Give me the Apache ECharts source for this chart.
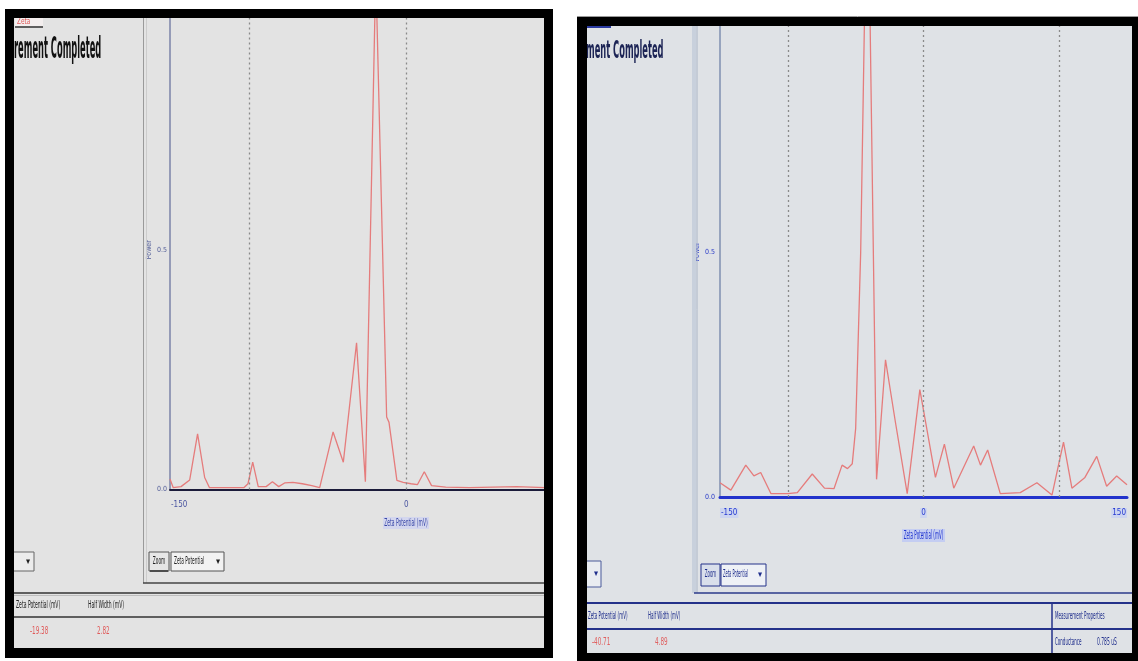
<!DOCTYPE html>
<html><head><meta charset="utf-8">
<script src="https://cdn.jsdelivr.net/npm/echarts@6/dist/echarts.min.js"></script>
<style>html,body{margin:0;padding:0;background:#fff}#c{width:1138px;height:661px}</style>
</head><body><div id="c"></div>
<script>
// ---- data ----
const leftZeta  = [-150,-148,-143,-137.5,-132.5,-128,-125,-115,-103,-100.5,-97.5,-94,-89,-85,-81,-77,-72,-66,-60,-55,-46.5,-40,-31.6,-26,-19.4,-12.5,-11,-6,-2,3,7,11.4,16,25,40,55,70,88];
const leftPower = [0.022,0.004,0.006,0.02,0.116,0.025,0.004,0.004,0.004,0.012,0.057,0.006,0.006,0.016,0.006,0.014,0.015,0.012,0.008,0.004,0.12,0.057,0.306,0.016,1.08,0.151,0.14,0.019,0.015,0.012,0.01,0.037,0.008,0.005,0.004,0.005,0.006,0.004];
const rightZeta  = [-150,-142,-131,-125,-120,-112.5,-100,-93,-82,-73,-66,-60,-56,-52.5,-50,-46.3,-41.3,-34.6,-28,-20.6,-12,-2.7,8.8,15.4,22.3,37,42,47.3,56.6,71.3,83.6,94.7,103.2,109.4,119,127.7,135,142.4,150];
const rightPower = [0.029,0.014,0.065,0.043,0.05,0.007,0.007,0.009,0.047,0.018,0.017,0.065,0.058,0.068,0.14,0.5,1.35,0.036,0.28,0.151,0.007,0.219,0.04,0.108,0.018,0.104,0.065,0.096,0.007,0.009,0.029,0.004,0.112,0.018,0.04,0.083,0.022,0.043,0.025];
const gridLinesMv = [-100, 0, 100];
const xTickLabels = [-150, 0, 150];
const yTickLabels = [0, 0.5, 1];
const tableHeaders = ['Zeta Potential (mV)', 'Half Width (mV)'];
const leftResults = ['-19.38', '2.82'];
const rightResults = ['-40.71', '4.89'];
const propHeader = 'Measurement Properties';
const propRow = ['Conductance', '0.785 uS'];
const leftTitle = 'rement Completed';
const rightTitle = 'ment Completed';
const axisXName = 'Zeta Potential (mV)';
const axisYName = 'Power';

const FONT = "'DejaVu Sans Condensed','Liberation Sans Narrow','DejaVu Sans',sans-serif";
const LEFT_MAX = 88;

function rect(x, y, w, h, fill, z, stroke) {
  return {type:'rect', z: z, silent:true, shape:{x, y, width:w, height:h},
    style:{fill: fill, stroke: stroke || null, lineWidth: stroke ? 1 : 0}};
}
function line(x1, y1, x2, y2, color, w, z) {
  return {type:'line', z: z == null ? 5 : z, silent:true, shape:{x1, y1, x2, y2}, style:{stroke: color, lineWidth: w}};
}
function text(x, y, str, o) {
  o = o || {};
  return {type:'text', z: o.z == null ? 6 : o.z, silent:true, x, y, scaleX: o.sx || 1, scaleY: o.sy || 1,
    style:{text: str, fill: o.color || '#222', fontSize: o.size || 9, fontFamily: FONT,
      fontWeight: o.bold ? 'bold' : 'normal', align: o.align || 'left', verticalAlign: 'middle'}};
}

const g = [];
// white margins outside the two screenshots (cover anything drawn past the frames)
g.push(rect(0, 0, 1138, 9, '#ffffff', 99));
g.push(rect(553, 0, 24, 661, '#ffffff', 99));
g.push(rect(577, 0, 561, 16, '#ffffff', 99));

// ---------- left panel ----------
g.push(rect(7, 10, 546, 648, '#e3e3e3', -10));
g.push(rect(15, 17, 28, 9, '#f3eeee', 5));
g.push(text(17, 21.5, 'Zeta', {color:'#e05a5a', size:8, sx:0.8}));
g.push(line(15, 27, 43, 27, '#333', 1.5));
g.push(text(14, 50, leftTitle, {bold:true, size:22, sx:0.42, sy:1.35, color:'#111'}));
g.push(line(143.5, 17, 143.5, 583, '#9a9a9a', 1));
g.push(line(146.5, 17, 146.5, 583, '#cccccc', 1));
g.push(line(143, 583, 544, 583, '#444', 1.5));
g.push(line(14, 593, 544, 593, '#333', 1.5));
g.push(line(14, 595.5, 544, 595.5, '#bdbdbd', 1));
g.push(line(14, 617, 544, 617, '#333', 1.5));
g.push(text(16, 605, tableHeaders[0], {size:9, sx:0.56, sy:1.2, color:'#222'}));
g.push(text(88, 605, tableHeaders[1], {size:9, sx:0.56, sy:1.2, color:'#222'}));
g.push(text(30, 631, leftResults[0], {size:9, sx:0.7, sy:1.2, color:'#e05a5a'}));
g.push(text(97, 631, leftResults[1], {size:9, sx:0.7, sy:1.2, color:'#e05a5a'}));
g.push(rect(12, 552, 22, 19, '#ececec', 4, '#666'));
g.push(text(28, 561.5, '▾', {size:9, align:'center', color:'#222'}));
g.push(rect(149, 552, 20, 19, '#e6e6e6', 4, '#555'));
g.push(text(159, 561.5, 'Zoom', {size:8, sx:0.6, sy:1.2, align:'center', color:'#222'}));
g.push(line(150, 571, 168, 571, '#333', 1.5));
g.push(rect(171, 552, 53, 19, '#f2f2f2', 4, '#555'));
g.push(text(174, 561.5, 'Zeta Potential', {size:8, sx:0.6, sy:1.2, color:'#222'}));
g.push(text(218, 561.5, '▾', {size:9, align:'center', color:'#222'}));
g.push(rect(383, 517, 46, 12, '#d3d6ee', 4));
g.push(text(406, 523, axisXName, {size:9, sx:0.55, sy:1.2, align:'center', color:'#3a48a8'}));
// frame (on top)
g.push(rect(5, 9, 548, 9, '#000', 100));
g.push(rect(5, 648, 548, 10, '#000', 100));
g.push(rect(5, 9, 9, 649, '#000', 100));
g.push(rect(544, 9, 9, 649, '#000', 100));

// ---------- right panel ----------
g.push(rect(580, 17, 558, 644, '#dfe2e6', -10));
g.push(line(577, 16.5, 1138, 16.5, '#9a9a9a', 1, 100));
g.push(line(587, 27, 611, 27, '#2a3aa0', 2));
g.push(text(586, 51, rightTitle, {bold:true, size:22, sx:0.42, sy:1.15, color:'#1c2455'}));
g.push(rect(692, 26, 4, 567, '#c8d0dc', 3));
g.push(line(697, 26, 697, 593, '#a9b4c6', 1));
g.push(line(694, 593, 1132, 593, '#2b3a8a', 1.5));
g.push(line(587, 603, 1132, 603, '#24328a', 2));
g.push(line(587, 629, 1132, 629, '#24328a', 2));
g.push(line(1052, 603, 1052, 653, '#24328a', 1.5));
g.push(text(588, 616, tableHeaders[0], {size:9, sx:0.5, sy:1.2, color:'#1f2e8c'}));
g.push(text(648, 616, tableHeaders[1], {size:9, sx:0.5, sy:1.2, color:'#1f2e8c'}));
g.push(text(1055, 616, propHeader, {size:9, sx:0.5, sy:1.2, color:'#1f2e8c'}));
g.push(text(592, 642, rightResults[0], {size:9, sx:0.7, sy:1.2, color:'#e06060'}));
g.push(text(655, 642, rightResults[1], {size:9, sx:0.7, sy:1.2, color:'#e06060'}));
g.push(text(1055, 642, propRow[0], {size:9, sx:0.5, sy:1.2, color:'#1f2e8c'}));
g.push(text(1097, 642, propRow[1], {size:9, sx:0.55, sy:1.2, color:'#1f2e8c'}));
g.push(rect(586, 561, 15, 26, '#e9ecf1', 4, '#4a5a9a'));
g.push(text(596, 574, '▾', {size:9, align:'center', color:'#1f2e8c'}));
g.push(rect(701, 564, 19, 22, '#d9dfeb', 4, '#24328a'));
g.push(text(710.5, 575, 'Zoom', {size:8, sx:0.55, sy:1.2, align:'center', color:'#1f2e8c'}));
g.push(rect(721, 564, 45, 22, '#eef1f6', 4, '#24328a'));
g.push(text(723, 575, 'Zeta Potential', {size:8, sx:0.5, sy:1.2, color:'#1f2e8c'}));
g.push(text(760, 575, '▾', {size:9, align:'center', color:'#1f2e8c'}));
g.push(rect(902, 529, 43, 13, '#c4cdf2', 4));
g.push(text(923.5, 535.5, axisXName, {size:9, sx:0.5, sy:1.3, align:'center', color:'#2438d0'}));
// frame
g.push(rect(577, 17, 561, 9, '#000', 100));
g.push(rect(577, 653, 561, 8, '#000', 100));
g.push(rect(577, 17, 10, 644, '#000', 100));
g.push(rect(1132, 17, 6, 644, '#000', 100));

function pairs(xs, ys) { return xs.map((x, i) => [x, ys[i]]); }

function xAxisCfg(idx, max, lineColor, lineW, labelColor, labelMargin, labelBg) {
  return {type:'value', gridIndex: idx, min:-150, max: max, interval: idx === 0 ? 50 : 150,
    axisLine:{show:true, onZero:false, lineStyle:{color: lineColor, width: lineW}},
    axisTick:{show:false}, splitLine:{show:false},
    axisLabel:{formatter: v => xTickLabels.includes(v) ? String(v) : '', fontSize:8, fontFamily: FONT,
      color: labelColor, margin: labelMargin, alignMinLabel:'left', alignMaxLabel:'right',
      backgroundColor: labelBg, padding:[1,1]}};
}
function yAxisCfg(idx, lineColor, labelColor, nameGap, labelMargin) {
  return {type:'value', gridIndex: idx, min: yTickLabels[0], max: yTickLabels[yTickLabels.length-1], interval: yTickLabels[1] - yTickLabels[0],
    axisLine:{show:true, onZero:false, lineStyle:{color: lineColor, width:1.5}}, axisTick:{show:false}, splitLine:{show:false},
    axisLabel:{formatter: v => v.toFixed(1), fontSize:7, fontFamily: FONT, color: labelColor, margin: labelMargin},
    name: axisYName, nameLocation:'middle', nameGap: nameGap, nameRotate: 90,
    nameTextStyle:{fontSize:7, fontFamily: FONT, color: labelColor}};
}
function seriesCfg(idx, data, max) {
  return {type:'line', xAxisIndex: idx, yAxisIndex: idx, data: data, showSymbol:false, clip:true,
    lineStyle:{color:'#e57c7c', width:1.3}, z: 3,
    markLine:{silent:true, symbol:'none', label:{show:false}, animation:false,
      lineStyle:{color:'#8a8a8a', type:[2,3], width:1.3},
      data: gridLinesMv.filter(v => v <= max).map(v => ({xAxis: v}))}};
}

const chart = echarts.init(document.getElementById('c'), null, {renderer:'canvas'});
chart.setOption({
  animation:false,
  backgroundColor:'#ffffff',
  grid:[
    {left:170, right:1138-545, top:10, bottom:171.5},
    {left:720, right:11, top:7, bottom:164}
  ],
  xAxis:[
    xAxisCfg(0, LEFT_MAX, '#1b1b3a', 2, '#4a55a0', 10, 'transparent'),
    xAxisCfg(1, 150, '#2233cc', 3, '#2438d0', 11, '#cdd5f0')
  ],
  yAxis:[
    yAxisCfg(0, '#7b83a8', '#55609a', 14, 3),
    yAxisCfg(1, '#7f8fb0', '#2a3cc8', 13, 5)
  ],
  series:[
    seriesCfg(0, pairs(leftZeta, leftPower), LEFT_MAX),
    seriesCfg(1, pairs(rightZeta, rightPower), 150)
  ],
  graphic:{elements: g}
});
</script>
</body></html>
